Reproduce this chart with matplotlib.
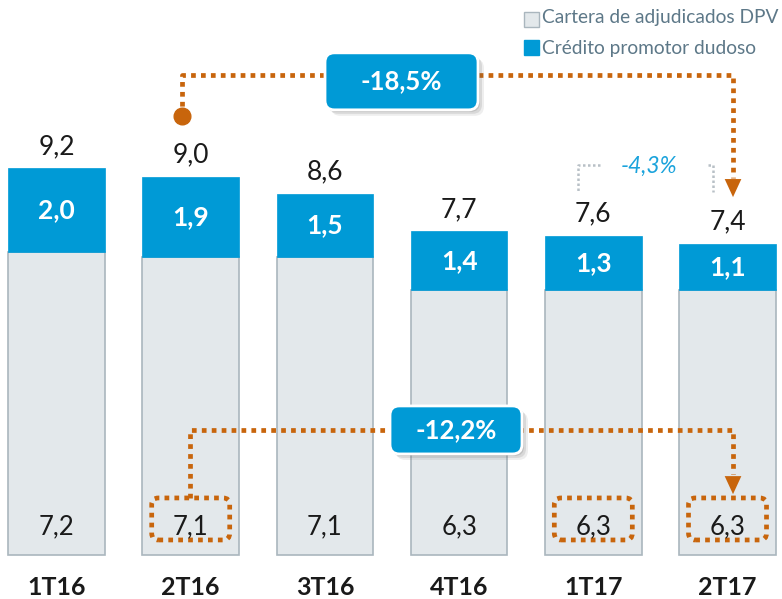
import matplotlib
matplotlib.use("Agg")
from matplotlib import pyplot as plt
from matplotlib.patches import FancyBboxPatch, Rectangle

plt.rcParams['font.family'] = ['Lato', 'DejaVu Sans']

categories = ['1T16', '2T16', '3T16', '4T16', '1T17', '2T17']
adjudicados = [7.2, 7.1, 7.1, 6.3, 6.3, 6.3]
promotor = [2.0, 1.9, 1.5, 1.4, 1.3, 1.1]
totals = [9.2, 9.0, 8.6, 7.7, 7.6, 7.4]

BLUE = '#009ad6'
GREY = '#e3e8eb'
GREY_EDGE = '#aab6be'
ORANGE = '#c8650c'
LEGEND_TXT = '#5d7888'

fig = plt.figure(figsize=(7.82, 5.99), dpi=100)
ax = fig.add_axes([0, 0, 1, 1])
ax.set_xlim(-0.421, 5.406)
ax.set_ylim(-1.048, 13.21)
ax.axis('off')

# pixel helpers for placing the annotation furniture
PX_X = 134.2
PX_Y = 42.0
def px(x):
    return (x - 56.5) / PX_X
def py(y):
    return (555 - y) / PX_Y

x = list(range(len(categories)))
w = 0.72
ax.bar(x, adjudicados, w, color=GREY, edgecolor=GREY_EDGE, linewidth=1.2, zorder=2)
ax.bar(x, promotor, w, bottom=adjudicados, color=BLUE, edgecolor=BLUE, linewidth=0.5, zorder=2)

def fmt(v):
    return f'{v:.1f}'.replace('.', ',')

for i in x:
    ax.text(i, adjudicados[i] + promotor[i] / 2, fmt(promotor[i]), ha='center', va='center',
            color='white', fontsize=19, fontweight='bold', zorder=5)
    ax.text(i, py(527), fmt(adjudicados[i]), ha='center', va='center',
            color='#1a1a1a', fontsize=18.5, zorder=5)
    ax.text(i, totals[i] + 0.52, fmt(totals[i]), ha='center', va='center',
            color='#1a1a1a', fontsize=19, zorder=5)
    ax.text(i, py(588), categories[i], ha='center', va='center',
            color='#1a1a1a', fontsize=18, fontweight='bold', zorder=5)

dot = dict(color=ORANGE, linewidth=3.4, linestyle=(0, (1, 1.1)), dash_capstyle='butt', zorder=4)
head = dict(arrowstyle='-|>,head_width=0.6,head_length=1.3', color=ORANGE, lw=0)

def callout(cx, cy, wpx, hpx, label):
    # blue rounded label with a soft drop shadow
    aspect = PX_X / PX_Y
    bw, bh = wpx / PX_X, hpx / PX_Y
    for k, a in [(6, 0.10), (4, 0.15), (2, 0.2)]:
        sh = FancyBboxPatch((cx - bw / 2 + k / PX_X, cy - bh / 2 - k / PX_Y), bw, bh,
                            boxstyle='round,pad=0,rounding_size=0.07', mutation_aspect=aspect,
                            facecolor='#606060', edgecolor='none', alpha=a, zorder=6)
        ax.add_patch(sh)
    box = FancyBboxPatch((cx - bw / 2, cy - bh / 2), bw, bh,
                         boxstyle='round,pad=0,rounding_size=0.07', mutation_aspect=aspect,
                         facecolor=BLUE, edgecolor='white', linewidth=2, zorder=7)
    ax.add_patch(box)
    ax.text(cx, cy, label, ha='center', va='center', color='white',
            fontsize=18.5, fontweight='bold', zorder=8)

def ring(i, label_y):
    # dotted rounded frame around a bottom value
    bw, bh = 78 / PX_X, 42 / PX_Y
    fr = FancyBboxPatch((i - bw / 2, label_y - bh / 2), bw, bh,
                        boxstyle='round,pad=0,rounding_size=0.05', mutation_aspect=PX_X / PX_Y,
                        facecolor='none', edgecolor=ORANGE, linewidth=3.4,
                        linestyle=(0, (1, 1.1)), zorder=4)
    ax.add_patch(fr)

# -18,5% : 2T16 total to 2T17 total
x0, x1 = px(182), px(733)
y_top = py(75)
ax.plot([x0, x0, x1, x1], [py(116), y_top, y_top, py(178)], **dot)
ax.plot([x0], [py(116)], 'o', color=ORANGE, markersize=12, zorder=4)
ax.annotate('', xy=(x1, py(200)), xytext=(x1, py(178)), arrowprops=head, zorder=4)
callout(px(401.5), py(81.5), 153, 57, '-18,5%')

# -12,2% : 2T16 DPV to 2T17 DPV
y_mid = py(430)
x2 = px(190)
ax.plot([x2, x2, x1, x1], [py(498), y_mid, y_mid, py(474)], **dot)
ax.annotate('', xy=(x1, py(497)), xytext=(x1, py(475)), arrowprops=head, zorder=4)
for i in (1, 4, 5):
    ring(i, py(519))
callout(px(456), py(430), 132, 48, '-12,2%')

# -4,3% : 1T17 to 2T17
gdot = dict(color='#b8c0c6', linewidth=1.8, linestyle=(0, (1, 1)), zorder=4)
ax.plot([px(600), px(578), px(578)], [py(165), py(165), py(192)], **gdot)
ax.plot([px(708), px(713), px(713)], [py(165), py(165), py(192)], **gdot)
ax.text(px(649), py(166), '-4,3%', ha='center', va='center', color='#1aa3dc',
        fontsize=16.5, fontstyle='italic', zorder=5)

# legend
ax.add_patch(Rectangle((px(524), py(27)), 15 / PX_X, 15 / PX_Y, facecolor=GREY,
                       edgecolor=GREY_EDGE, linewidth=1, zorder=5))
ax.add_patch(Rectangle((px(524), py(55)), 15 / PX_X, 15 / PX_Y, facecolor=BLUE,
                       edgecolor=BLUE, linewidth=1, zorder=5))
ax.text(px(542), py(18), 'Cartera de adjudicados DPV', ha='left', va='center',
        color=LEGEND_TXT, fontsize=13.8, zorder=5)
ax.text(px(542), py(49), 'Crédito promotor dudoso', ha='left', va='center',
        color=LEGEND_TXT, fontsize=13.8, zorder=5)

fig.savefig('out.png', dpi=100)
